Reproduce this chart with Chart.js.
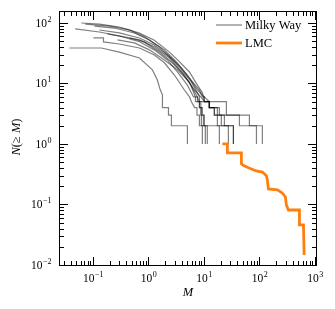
<!DOCTYPE html>
<html>
<head>
<meta charset="utf-8">
<script src="https://cdn.jsdelivr.net/npm/chart.js@4.4.1/dist/chart.umd.min.js"></script>
<style>
  html, body { margin: 0; padding: 0; background: #fff; }
  canvas { display: block; }
</style>
</head>
<body>
<canvas id="chart" width="335" height="309"></canvas>
<script>
// cumulative satellite counts N(>=M), vertices: [M, N]
const mw1 = [[0.062,100],[0.131,96],[0.30,86],[0.69,68],[1.28,52],[2.39,33],[3.62,23],[5.48,15.5],[7.63,9.4],[9.4,7],[10.2,5],[25.4,5],[25.4,3],[66,3],[66,2],[113,2],[113,1]];
const mw2 = [[0.073,96],[0.198,89],[0.455,77],[0.85,59],[1.58,40],[2.6,26],[3.93,17],[5.95,10.6],[7.6,7],[8.3,6],[8.3,5],[12.5,5],[12.5,4],[17.5,4],[17.5,3],[20.6,3],[20.6,2],[34,2],[34,1]];
const mw3 = [[0.048,80],[0.131,71],[0.30,61],[0.69,49],[1.28,36],[2.2,24.5],[3.33,15.5],[5.04,9.4],[6.5,6],[7.03,6],[7.03,5],[8.3,5],[8.3,4],[9.0,4],[9.0,3],[10.2,3],[10.2,2],[19,2],[19,1]];
const mw4 = [[0.102,56.6],[0.155,56.6],[0.155,48.7],[0.30,45],[0.69,38.6],[1.28,29.6],[1.94,22],[2.94,13.8],[4.45,7.8],[5.5,6],[5.95,5],[6.8,4],[7.5,4],[7.5,3],[8.3,3],[8.3,2],[11.5,2],[11.5,1]];
const mw5 = [[0.0377,38.6],[0.142,38.6],[0.30,33],[0.69,26.4],[1.18,16.8],[1.45,11.4],[1.62,8],[1.79,6.5],[1.79,4],[2.3,4],[2.3,3],[2.6,3],[2.6,2],[5.04,2],[5.04,1]];
const mw6 = [[0.131,76.6],[0.30,68.5],[0.69,56.6],[1.28,43.4],[2.2,29.6],[3.62,19.5],[5.48,12.3],[8.3,7.8],[9.4,6],[10.2,6],[10.2,5],[12.5,5],[12.5,4],[15.4,4],[15.4,3],[17.5,3],[17.5,2],[27.6,2],[27.6,1]];
const mw7 = [[0.183,66],[0.369,59],[0.69,52.5],[1.28,40.3],[2.39,26.4],[3.93,15.5],[5.95,9.1],[7.6,6],[8.3,5],[8.3,4],[8.8,4],[8.8,3],[9.0,3],[9.0,2],[9.38,2],[9.38,1]];
const mw8 = [[0.107,89],[0.244,82.6],[0.559,68.5],[1.04,52.5],[1.94,36],[3.2,22.7],[5.04,13.8],[7.63,7.8],[10.2,6],[12.5,5],[12.5,4],[19,4],[19,3],[43.6,3],[43.6,2],[88.4,2],[88.4,1]];
const mw9 = [[0.277,52.5],[0.559,46.9],[1.04,36],[1.94,24.5],[3.33,16.8],[5.48,10.6],[7.03,6],[7.63,6],[7.63,5],[8.8,5],[8.8,4],[9.38,4],[9.38,3],[9.8,3],[9.8,2],[10.6,2],[10.6,1]];
const mw10 = [[0.455,56.6],[0.847,48.7],[1.58,33.2],[2.6,22.7],[4.45,13.8],[6.75,7.8],[8.8,6],[10.2,5],[12.5,5],[12.5,4],[15.4,4],[15.4,3],[23.4,3],[23.4,2],[34,2],[34,1]];
const milkyWay = [mw1, mw2, mw3, mw4, mw5, mw6, mw7, mw8, mw9, mw10];

const lmc = [[21.5,1.0],[26.5,1.0],[26.5,0.71],[47.4,0.71],[47.4,0.47],[52,0.44],[58,0.42],[65,0.40],[72,0.386],[88,0.358],[113,0.344],[128,0.31],[134,0.296],[139,0.254],[145,0.18],[211,0.174],[259,0.155],[294,0.133],[306,0.098],[333,0.081],[526,0.081],[526,0.046],[621,0.046],[640,0.0146]];

const xExps = [-1, 0, 1, 2, 3];
const yExps = [-2, -1, 0, 1, 2];

const serif = '"Liberation Serif", "DejaVu Serif", serif';

const datasets = milkyWay.map((host, i) => ({
  label: i === 0 ? 'Milky Way' : '',
  data: host.map(p => ({x: p[0], y: p[1]})),
  borderColor: 'rgba(0,0,0,0.5)',
  borderWidth: 1.2,
  pointRadius: 0,
  tension: 0,
  order: 1
}));
datasets.push({
  label: 'LMC',
  data: lmc.map(p => ({x: p[0], y: p[1]})),
  borderColor: '#ff7f0e',
  borderWidth: 2.8,
  pointRadius: 0,
  tension: 0,
  order: 0
});

function powerLabel(ctx, exp, x, y, align) {
  ctx.font = '11.5px ' + serif;
  const wBase = ctx.measureText('10').width;
  ctx.font = '8px ' + serif;
  const sup = exp < 0 ? '\u2212' + Math.abs(exp) : String(exp);
  const wSup = ctx.measureText(sup).width;
  let start = align === 'right' ? x - wBase - wSup : x - (wBase + wSup) / 2;
  ctx.textAlign = 'left';
  ctx.textBaseline = 'alphabetic';
  ctx.font = '11.5px ' + serif;
  ctx.fillText('10', start, y);
  ctx.font = '8px ' + serif;
  ctx.fillText(sup, start + wBase + 0.5, y - 5);
}

const axesDecor = {
  id: 'axesDecor',
  afterDraw(chart) {
    const {ctx, chartArea: a, scales: {x, y}} = chart;
    ctx.save();
    ctx.strokeStyle = '#000';
    ctx.fillStyle = '#000';
    ctx.lineWidth = 1;
    ctx.strokeRect(a.left + 0.5, a.top + 0.5, a.right - a.left - 1, a.bottom - a.top - 1);

    // inward ticks on all four sides
    ctx.beginPath();
    for (let d = -2; d <= 3; d++) {
      for (let k = 1; k <= 9; k++) {
        const v = k * Math.pow(10, d);
        const len = k === 1 ? 9 : 5;
        if (v >= x.min && v <= x.max) {
          const px = Math.round(x.getPixelForValue(v)) + 0.5;
          ctx.moveTo(px, a.bottom); ctx.lineTo(px, a.bottom - len);
          ctx.moveTo(px, a.top); ctx.lineTo(px, a.top + len);
        }
        if (v >= y.min && v <= y.max) {
          const py = Math.round(y.getPixelForValue(v)) + 0.5;
          ctx.moveTo(a.left, py); ctx.lineTo(a.left + len, py);
          ctx.moveTo(a.right, py); ctx.lineTo(a.right - len, py);
        }
      }
    }
    ctx.stroke();

    xExps.forEach(e => powerLabel(ctx, e, x.getPixelForValue(Math.pow(10, e)), a.bottom + 16, 'center'));
    yExps.forEach(e => powerLabel(ctx, e, a.left - 8, y.getPixelForValue(Math.pow(10, e)) + 4, 'right'));

    // axis titles
    ctx.textBaseline = 'middle';
    ctx.textAlign = 'center';
    ctx.font = 'italic 12.5px ' + serif;
    ctx.fillText('M', 188, 293);

    ctx.translate(17, 137);
    ctx.rotate(-Math.PI / 2);
    const parts = [['N', true], ['(\u2265 ', false], ['M', true], [')', false]];
    let total = 0;
    parts.forEach(p => { ctx.font = (p[1] ? 'italic ' : '') + '12.5px ' + serif; total += ctx.measureText(p[0]).width; });
    let cx = -total / 2;
    ctx.textAlign = 'left';
    parts.forEach(p => {
      ctx.font = (p[1] ? 'italic ' : '') + '12.5px ' + serif;
      ctx.fillText(p[0], cx, 0);
      cx += ctx.measureText(p[0]).width;
    });
    ctx.restore();

    // legend
    ctx.save();
    const items = [[datasets[0], 25], [datasets[datasets.length - 1], 43]];
    items.forEach(([ds, ly]) => {
      ctx.strokeStyle = ds.borderColor;
      ctx.lineWidth = ds.borderWidth;
      ctx.beginPath();
      ctx.moveTo(216, ly); ctx.lineTo(242, ly);
      ctx.stroke();
      ctx.fillStyle = '#000';
      ctx.font = '12.5px ' + serif;
      ctx.textBaseline = 'middle';
      ctx.fillText(ds.label, 245, ly + 1);
    });
    ctx.restore();
  }
};

new Chart(document.getElementById('chart'), {
  type: 'line',
  data: { datasets },
  options: {
    responsive: false,
    animation: false,
    layout: { padding: { left: 59, top: 11, right: 18, bottom: 43 } },
    scales: {
      x: { type: 'logarithmic', min: 0.0245, max: 1090, bounds: 'data', display: false },
      y: { type: 'logarithmic', min: 0.0096, max: 158, bounds: 'data', display: false }
    },
    plugins: { legend: { display: false }, tooltip: { enabled: false } }
  },
  plugins: [axesDecor]
});
</script>
</body>
</html>
